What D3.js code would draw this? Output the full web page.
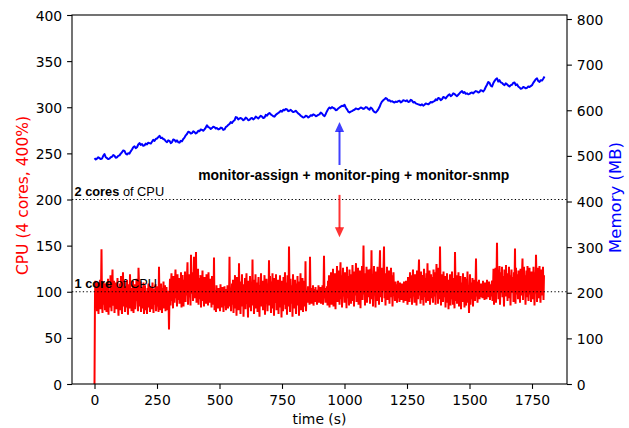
<!DOCTYPE html>
<html>
<head>
<meta charset="utf-8">
<script src="https://cdn.jsdelivr.net/npm/d3@7"></script>
<style>
  body { margin: 0; background: #fff; }
  svg { display: block; }
</style>
</head>
<body>
<svg id="chart" width="629" height="428"></svg>
<script>
// CPU usage (% of one core), one sample every 2 s starting at t = 0
const cpuStep = 2;
const cpuUsage = [
  0, 98, 112, 84, 105, 79, 110, 92, 76, 108, 95, 113, 81, 102, 146, 88, 77, 104, 111, 86, 99, 80, 109, 93, 78,
  106, 89, 114, 75, 101, 97, 83, 118, 90, 79, 107, 124, 85, 96, 112, 77, 103, 88, 110, 81, 98, 115, 86, 74, 105,
  92, 109, 80, 117, 87, 76, 102, 121, 84, 99, 111, 78, 94, 106, 83, 113, 89, 75, 108, 97, 82, 119, 91, 104, 79,
  101, 86, 112, 77, 95, 108, 81, 103, 90, 114, 100, 85, 79, 126, 109, 84, 96, 111, 78, 93, 105, 82, 98, 110, 76,
  94, 107, 80, 101, 88, 76, 104, 91, 109, 83, 97, 78, 106, 89, 100, 81, 110, 93, 77, 103, 86, 98, 108, 79, 95,
  84, 106, 91, 78, 127, 87, 102, 80, 109, 95, 77, 104, 88, 111, 82, 99, 107, 79, 93, 105, 86, 80, 101, 92, 59,
  96, 114, 85, 108, 120, 90, 103, 82, 117, 99, 88, 112, 124, 93, 106, 84, 119, 101, 91, 115, 87, 110, 97, 121, 83,
  105, 118, 92, 84, 113, 100, 122, 89, 108, 96, 116, 132, 86, 103, 119, 94, 111, 85, 140, 98, 107, 121, 90, 114, 138,
  93, 120, 102, 143, 88, 111, 98, 125, 86, 115, 104, 92, 118, 83, 109, 99, 123, 90, 107, 84, 116, 97, 112, 87, 119,
  95, 110, 85, 121, 100, 88, 114, 92, 106, 83, 117, 98, 109, 86, 137, 80, 102, 94, 78, 107, 89, 99, 82, 104, 91,
  96, 79, 108, 87, 101, 83, 105, 93, 78, 99, 106, 85, 94, 80, 103, 90, 107, 82, 97, 88, 138, 84, 102, 79, 95,
  109, 86, 113, 77, 101, 94, 118, 82, 105, 74, 116, 90, 99, 80, 131, 88, 111, 76, 103, 97, 119, 84, 108, 73, 100,
  92, 115, 81, 106, 120, 87, 98, 72, 112, 95, 83, 117, 102, 79, 108, 90, 135, 85, 113, 76, 104, 96, 119, 82, 99,
  110, 78, 101, 116, 89, 73, 107, 94, 120, 84, 98, 112, 80, 105, 91, 118, 75, 103, 87, 114, 96, 79, 109, 92, 134,
  85, 117, 100, 77, 111, 93, 120, 82, 106, 74, 115, 97, 88, 119, 80, 103, 94, 113, 76, 108, 90, 118, 83, 101, 72,
  112, 95, 79, 116, 86, 105, 121, 81, 99, 110, 75, 118, 92, 84, 149, 102, 78, 114, 96, 87, 107, 73, 119, 90, 104,
  82, 113, 98, 76, 109, 91, 117, 85, 103, 74, 111, 94, 120, 80, 106, 88, 115, 78, 100, 92, 112, 84, 133, 79, 97,
  101, 88, 106, 92, 99, 86, 138, 95, 104, 87, 100, 93, 107, 85, 97, 103, 89, 105, 91, 98, 86, 102, 94, 107, 88,
  99, 91, 105, 87, 103, 95, 107, 86, 100, 139, 93, 104, 88, 101, 96, 106, 85, 112, 90, 118, 83, 109, 97, 121, 86,
  113, 94, 125, 84, 107, 99, 120, 81, 116, 102, 128, 89, 111, 97, 123, 86, 109, 132, 92, 118, 83, 105, 126, 95, 115,
  88, 121, 100, 110, 82, 127, 93, 117, 104, 85, 124, 98, 112, 87, 119, 101, 129, 90, 108, 84, 122, 96, 114, 131, 89,
  118, 103, 126, 86, 111, 95, 123, 82, 115, 100, 128, 91, 109, 150, 97, 120, 85, 113, 104, 127, 88, 117, 94, 124, 99,
  112, 87, 125, 102, 145, 92, 119, 84, 108, 128, 96, 116, 83, 122, 105, 90, 127, 99, 114, 86, 121, 145, 94, 110, 126,
  89, 117, 101, 124, 149, 93, 113, 85, 120, 106, 127, 91, 115, 98, 123, 87, 110, 102, 126, 94, 118, 84, 107, 121, 96,
  104, 90, 111, 95, 108, 88, 102, 112, 93, 106, 89, 110, 98, 105, 91, 109, 96, 103, 88, 111, 94, 107, 90, 112, 99,
  108, 86, 116, 97, 112, 89, 121, 101, 93, 118, 86, 110, 124, 95, 105, 88, 119, 99, 114, 85, 123, 103, 92, 117, 135,
  96, 113, 87, 122, 104, 91, 118, 100, 85, 125, 109, 94, 115, 88, 120, 102, 131, 90, 112, 97, 123, 86, 107, 119, 93,
  116, 101, 88, 124, 106, 95, 121, 86, 110, 130, 99, 114, 87, 126, 103, 92, 149, 108, 85, 119, 97, 112, 89, 122, 104,
  94, 117, 83, 109, 100, 120, 88, 113, 81, 105, 96, 119, 85, 111, 92, 122, 101, 86, 115, 98, 82, 143, 107, 90, 118,
  87, 112, 99, 121, 84, 106, 95, 117, 81, 110, 102, 89, 120, 93, 108, 83, 116, 97, 85, 114, 100, 122, 88, 104, 77,
  96, 119, 86, 110, 101, 92, 115, 84, 107, 98, 113, 90, 104, 136, 95, 111, 88, 106, 97, 113, 92, 104, 100, 109, 94,
  107, 93, 112, 99, 105, 91, 110, 96, 103, 92, 113, 98, 106, 94, 111, 101, 91, 108, 95, 104, 112, 90, 102, 125, 86,
  118, 97, 126, 88, 112, 153, 101, 123, 92, 115, 128, 86, 109, 121, 99, 127, 94, 117, 105, 84, 124, 111, 95, 129, 102,
  120, 90, 114, 106, 127, 93, 118, 85, 110, 124, 99, 116, 113, 89, 121, 103, 147, 87, 126, 97, 119, 108, 92, 123, 101,
  115, 88, 125, 104, 96, 120, 136, 91, 112, 127, 99, 118, 86, 109, 123, 94, 128, 103, 90, 116, 126, 97, 111, 89, 122,
  100, 117, 92, 127, 106, 85, 121, 98, 140, 113, 89, 126, 104, 119, 93, 128, 101, 88, 115, 124, 96, 110, 127, 91, 118
];

// Resident memory (MB), one sample every 5 s starting at t = 0
const memStep = 5;
const memoryMB = [
  495, 492, 494, 497, 495, 493, 494, 500, 504, 497, 495, 493, 494, 497, 498, 502, 500, 496, 497, 500,
  501, 505, 508, 512, 511, 505, 503, 506, 505, 510, 514, 519, 521, 517, 519, 525, 528, 524, 526, 522,
  523, 527, 525, 529, 528, 527, 531, 535, 533, 537, 538, 541, 544, 539, 540, 537, 536, 532, 530, 534,
  533, 528, 530, 536, 535, 531, 534, 530, 529, 533, 532, 537, 540, 545, 548, 553, 552, 549, 550, 554,
  552, 549, 551, 555, 554, 558, 557, 555, 558, 562, 567, 563, 562, 559, 561, 564, 563, 560, 561, 558,
  559, 562, 561, 557, 558, 563, 565, 568, 570, 574, 572, 576, 578, 585, 584, 580, 582, 583, 581, 578,
  580, 584, 582, 578, 579, 582, 583, 580, 582, 586, 584, 582, 585, 588, 586, 583, 584, 590, 588, 592,
  594, 591, 589, 587, 586, 590, 592, 594, 596, 599, 597, 601, 600, 603, 602, 598, 599, 601, 598, 596,
  597, 599, 596, 593, 591, 588, 586, 584, 585, 588, 587, 584, 586, 589, 588, 591, 590, 587, 588, 590,
  591, 595, 593, 589, 587, 592, 598, 603, 606, 604, 607, 605, 604, 600, 601, 604, 606, 608, 610, 609,
  612, 606, 602, 597, 595, 597, 598, 600, 601, 604, 603, 602, 604, 606, 605, 603, 604, 607, 606, 603,
  601, 606, 604, 599, 596, 595, 598, 602, 607, 614, 619, 622, 624, 627, 625, 621, 622, 619, 620, 618,
  617, 619, 618, 620, 621, 617, 619, 622, 621, 620, 622, 618, 619, 623, 621, 617, 618, 615, 614, 613,
  612, 611, 613, 610, 612, 615, 614, 613, 615, 618, 617, 619, 620, 624, 622, 627, 626, 622, 624, 629,
  628, 626, 630, 633, 635, 631, 633, 637, 636, 633, 631, 634, 637, 640, 642, 638, 640, 636, 637, 635,
  636, 638, 639, 637, 640, 642, 641, 639, 640, 644, 643, 641, 645, 651, 656, 662, 660, 654, 652, 659,
  664, 668, 670, 663, 666, 661, 660, 657, 655, 659, 657, 654, 652, 655, 656, 660, 661, 655, 657, 652,
  650, 647, 648, 651, 650, 648, 649, 652, 651, 653, 655, 660, 664, 668, 670, 664, 662, 666, 665, 669,
  674
];

const cpuTicks = [0, 50, 100, 150, 200, 250, 300, 350, 400];
const memTicks = [0, 100, 200, 300, 400, 500, 600, 700, 800];
const timeTicks = [0, 250, 500, 750, 1000, 1250, 1500, 1750];

const coreLines = [
  { value: 100, strong: "1 core", rest: " of CPU" },
  { value: 200, strong: "2 cores", rest: " of CPU" }
];
const noteText = "monitor-assign + monitor-ping + monitor-snmp";

// ---- layout ----
const box = { left: 72, right: 567, top: 15, bottom: 384 };
const tickFont = "'DejaVu Sans', sans-serif";
const noteFont = "'Liberation Sans', Arial, sans-serif";
const tickLen = 4.9, tickPad = 4.9, tickSize = 13.9;

const svg = d3.select("#chart");

const x = d3.scaleLinear().domain([-90, 1890]).range([box.left, box.right]);
const yCpu = d3.scaleLinear().domain([0, 400]).range([box.bottom, box.top]);
const yMem = d3.scaleLinear().domain([0, d3.max(memoryMB) * 1.2]).range([box.bottom, box.top]);

const cpuSeries = cpuUsage.map((v, i) => ({ t: i * cpuStep, v }));
const memSeries = memoryMB.map((v, i) => ({ t: i * memStep, v }));

const plot = svg.append("g");
plot.append("defs").append("clipPath").attr("id", "plotClip")
  .append("rect")
  .attr("x", box.left).attr("y", box.top)
  .attr("width", box.right - box.left).attr("height", box.bottom - box.top);

const marks = plot.append("g").attr("clip-path", "url(#plotClip)");

// CPU trace
marks.append("path")
  .datum(cpuSeries)
  .attr("fill", "none")
  .attr("stroke", "#ff0000")
  .attr("stroke-width", 2)
  .attr("stroke-linejoin", "miter")
  .attr("d", d3.line().x(d => x(d.t)).y(d => yCpu(d.v)));

// reference levels for whole cores
marks.selectAll("line.core")
  .data(coreLines)
  .join("line")
  .attr("class", "core")
  .attr("x1", box.left).attr("x2", box.right)
  .attr("y1", d => yCpu(d.value)).attr("y2", d => yCpu(d.value))
  .attr("stroke", "#000")
  .attr("stroke-width", 1.2)
  .attr("stroke-dasharray", "1.3,2.3");

// memory trace
marks.append("path")
  .datum(memSeries)
  .attr("fill", "none")
  .attr("stroke", "#0000ff")
  .attr("stroke-width", 2)
  .attr("stroke-linejoin", "round")
  .attr("d", d3.line().x(d => x(d.t)).y(d => yMem(d.v)));

// core labels
const coreLabels = svg.selectAll("text.coreLabel")
  .data(coreLines)
  .join("text")
  .attr("class", "coreLabel")
  .attr("x", box.left + 2.5)
  .attr("y", d => yCpu(d.value) - 4)
  .attr("font-family", noteFont)
  .attr("font-size", 12.8)
  .attr("fill", "#000");
coreLabels.append("tspan").attr("font-weight", "bold").text(d => d.strong);
coreLabels.append("tspan").text(d => d.rest);

// annotation with arrows to both traces
const noteTime = 980;
svg.append("text")
  .attr("x", x(1037))
  .attr("y", yCpu(220.6))
  .attr("text-anchor", "middle")
  .attr("font-family", noteFont)
  .attr("font-weight", "bold")
  .attr("font-size", 13.9)
  .attr("fill", "#000")
  .text(noteText);

function arrow(x0, y0, y1, color) {
  const dir = Math.sign(y1 - y0);
  const headLen = 10, headHalf = 4.6;
  const yBase = y1 - dir * headLen;
  svg.append("line")
    .attr("x1", x0).attr("x2", x0)
    .attr("y1", y0).attr("y2", yBase + dir * 1)
    .attr("stroke", color).attr("stroke-width", 2);
  svg.append("path")
    .attr("d", `M${x0},${y1}L${x0 - headHalf},${yBase}L${x0 + headHalf},${yBase}Z`)
    .attr("fill", color);
}
arrow(x(noteTime), yCpu(237.4), yMem(574), "rgba(0,0,255,0.75)");
arrow(x(noteTime), yCpu(205), yCpu(159), "rgba(255,0,0,0.8)");

// frame
svg.append("rect")
  .attr("x", box.left).attr("y", box.top)
  .attr("width", box.right - box.left).attr("height", box.bottom - box.top)
  .attr("fill", "none").attr("stroke", "#000").attr("stroke-width", 1.1);

function styleAxis(g) {
  g.select(".domain").remove();
  g.selectAll(".tick line").attr("stroke", "#000").attr("stroke-width", 1.1);
  g.selectAll(".tick text")
    .attr("font-family", tickFont)
    .attr("font-size", tickSize)
    .attr("fill", "#000");
}

svg.append("g")
  .attr("transform", `translate(0,${box.bottom})`)
  .call(d3.axisBottom(x).tickValues(timeTicks).tickFormat(d3.format("d"))
    .tickSize(tickLen).tickPadding(tickPad))
  .call(styleAxis)
  .call(g => g.selectAll(".tick text").attr("dy", "0.78em"));

svg.append("g")
  .attr("transform", `translate(${box.left},0)`)
  .call(d3.axisLeft(yCpu).tickValues(cpuTicks).tickFormat(d3.format("d"))
    .tickSize(tickLen).tickPadding(tickPad))
  .call(styleAxis)
  .call(g => g.selectAll(".tick text").attr("dy", "0.36em"));

svg.append("g")
  .attr("transform", `translate(${box.right},0)`)
  .call(d3.axisRight(yMem).tickValues(memTicks).tickFormat(d3.format("d"))
    .tickSize(tickLen).tickPadding(tickPad))
  .call(styleAxis)
  .call(g => g.selectAll(".tick text").attr("dy", "0.36em"));

// axis titles
svg.append("text")
  .attr("x", (box.left + box.right) / 2)
  .attr("y", 423.5)
  .attr("text-anchor", "middle")
  .attr("font-family", tickFont)
  .attr("font-size", 13.9)
  .attr("fill", "#000")
  .text("time (s)");

svg.append("text")
  .attr("transform", `translate(27.5,${(box.top + box.bottom) / 2 - 4}) rotate(-90)`)
  .attr("text-anchor", "middle")
  .attr("font-family", tickFont)
  .attr("font-size", 15.5)
  .attr("fill", "#ff0000")
  .text("CPU (4 cores, 400%)");

svg.append("text")
  .attr("transform", `translate(620.5,${(box.top + box.bottom) / 2 - 2}) rotate(-90)`)
  .attr("text-anchor", "middle")
  .attr("font-family", tickFont)
  .attr("font-size", 16.5)
  .attr("fill", "#0000ff")
  .text("Memory (MB)");
</script>
</body>
</html>
